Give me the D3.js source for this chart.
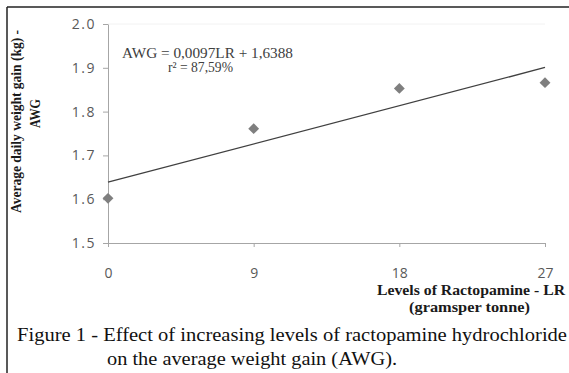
<!DOCTYPE html>
<html>
<head>
<meta charset="utf-8">
<script src="https://cdn.jsdelivr.net/npm/d3@7"></script>
<style>
  body { margin: 0; background: #fff; }
  svg { display: block; }
  .axis path, .axis line { stroke: #a6a6a6; }
  .axis text { font-family: "Open Sans", sans-serif; font-size: 14px; fill: #595959; }
  .serif { font-family: "Liberation Serif", "Times New Roman", serif; }
</style>
</head>
<body>
<script>
// levels of ractopamine (g/tonne) and the measured average weight gain (kg)
var levels = [0, 9, 18, 27];
var awg = [1.602, 1.761, 1.853, 1.866];
var yTicks = [1.5, 1.6, 1.7, 1.8, 1.9, 2.0];
// fitted line AWG = 0,0097LR + 1,6388
var slope = 0.0097, intercept = 1.6388;

var W = 569, H = 373;
var svg = d3.select("body").append("svg").attr("width", W).attr("height", H);

var x = d3.scaleLinear().domain([0, 27]).range([108, 545]);
var y = d3.scaleLinear().domain([1.5, 2.0]).range([243, 24]);

// frame of the figure (top and left edges only)
svg.append("line").attr("x1", 7).attr("x2", W).attr("y1", 7).attr("y2", 7)
  .attr("stroke", "#222").attr("stroke-width", 1.5);
svg.append("line").attr("x1", 7).attr("x2", 7).attr("y1", 7).attr("y2", H)
  .attr("stroke", "#222").attr("stroke-width", 1.5);

// faint top of plot area
svg.append("line").attr("x1", x(0)).attr("x2", x(27)).attr("y1", y(2.0)).attr("y2", y(2.0))
  .attr("stroke", "#f2f2f2");

var xAxis = svg.append("g").attr("class", "axis")
  .attr("transform", "translate(0," + y(1.5) + ")")
  .call(d3.axisBottom(x).tickValues(levels).tickSize(4).tickPadding(21).tickSizeOuter(0));
xAxis.select(".domain").attr("stroke", "#c0c0c0");

var yAxis = svg.append("g").attr("class", "axis")
  .attr("transform", "translate(" + x(0) + ",0)")
  .call(d3.axisLeft(y).tickValues(yTicks).tickFormat(d3.format(".1f")).tickSize(5).tickPadding(7).tickSizeOuter(0));
yAxis.selectAll("text").attr("letter-spacing", "1.5px");

// trend line
var line = d3.line().x(function(d) { return x(d); }).y(function(d) { return y(slope * d + intercept); });
svg.append("path").datum([0, 27]).attr("d", line)
  .attr("fill", "none").attr("stroke", "#404040").attr("stroke-width", 1.3);

// diamond markers
svg.selectAll(".pt").data(levels).enter().append("path")
  .attr("class", "pt")
  .attr("d", d3.symbol().type(d3.symbolDiamond2).size(75))
  .attr("transform", function(d, i) { return "translate(" + x(d) + "," + y(awg[i]) + ")"; })
  .attr("fill", "#7f7f7f");

// helper: serif text squeezed/stretched to the width seen in the figure
function label(g, tx, ty, len, size, txt) {
  return g.append("text").attr("class", "serif").attr("x", tx).attr("y", ty)
    .attr("textLength", len).attr("lengthAdjust", "spacingAndGlyphs")
    .style("font-size", size + "px").text(txt);
}

// equation
var eq = svg.append("g").style("fill", "#404040");
label(eq, 122, 58, 171, 14, "AWG = 0,0097LR + 1,6388");
label(eq, 168, 72, 65, 14, "r² = 87,59%");

// y axis title
var yt = svg.append("g").attr("transform", "translate(21,213) rotate(-90)")
  .style("font-weight", "bold").style("fill", "#1a1a1a");
label(yt, 0, 0, 183, 14, "Average daily weight gain (kg) -");
label(yt, 85, 19, 29, 14, "AWG");

// x axis title
var xt = svg.append("g").style("font-weight", "bold").style("fill", "#1a1a1a");
label(xt, 377, 295, 188, 14, "Levels of Ractopamine - LR");
label(xt, 409, 312, 121, 14, "(gramsper tonne)");

// caption
var cap = svg.append("g").style("fill", "#111");
label(cap, 17, 341, 550, 19.5, "Figure 1 - Effect of increasing levels of ractopamine hydrochloride");
label(cap, 107, 365, 290, 19.5, "on the average weight gain (AWG).");
</script>
</body>
</html>
